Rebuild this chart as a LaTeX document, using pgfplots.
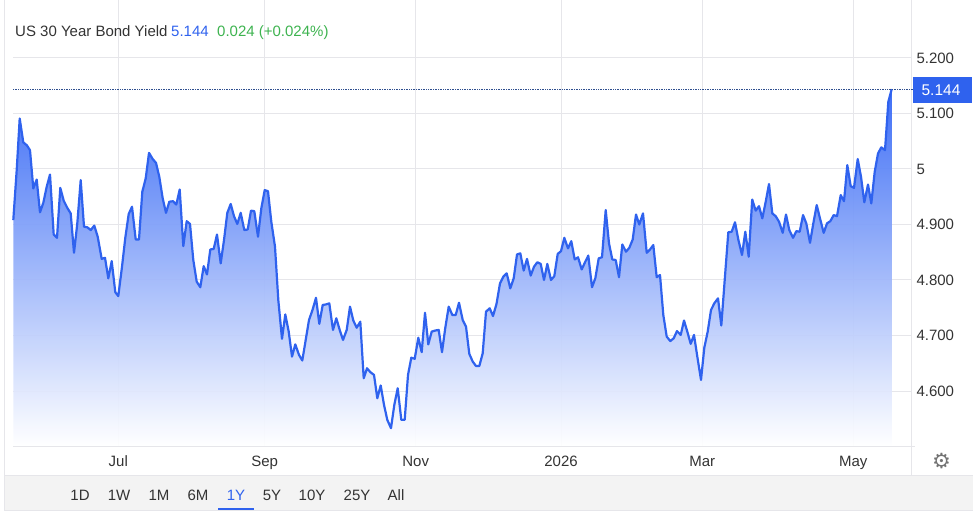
\documentclass[border=0pt]{standalone}
\usepackage{fontspec}
\usepackage{pgfplots}
\usepackage{pgfplotstable}
\pgfplotsset{compat=1.18}
\setmainfont{Liberation Sans}
\newfontfamily\djv{DejaVu Sans}
\definecolor{lineblue}{HTML}{2F62EE}
\definecolor{fillblue}{HTML}{3366F5}
\definecolor{midblue}{HTML}{89A5FB}
\definecolor{gridc}{HTML}{E6E6EA}
\definecolor{txt}{HTML}{333333}
\definecolor{upgreen}{HTML}{3DB34F}
\definecolor{barc}{HTML}{F3F3F3}
\definecolor{dotc}{HTML}{2F4F8F}
\pgfplotstableread{
x y
13.3 4.908
16.7 4.998
19.7 5.091
23.3 5.048
26.7 5.043
30 5.034
33.3 4.965
36.7 4.981
40 4.922
43.3 4.939
46.7 4.968
50 4.990
53.7 4.882
57 4.876
60.3 4.966
63.7 4.943
67.3 4.930
70.7 4.920
74 4.849
77.3 4.902
80.7 4.980
84 4.896
87.3 4.895
90.7 4.890
94.3 4.898
97.7 4.878
101.7 4.838
105 4.840
108.3 4.803
111.7 4.834
115.3 4.778
118.3 4.771
122 4.824
125.3 4.876
128.7 4.919
132 4.932
135.7 4.873
139 4.873
142.3 4.959
145.7 4.983
149 5.029
152.7 5.018
156 5.011
159.3 4.986
162.7 4.947
166 4.921
169.3 4.941
173 4.942
176.3 4.936
179.7 4.963
183.3 4.861
186.7 4.906
190 4.901
193.3 4.836
196.7 4.797
200.3 4.787
203.7 4.825
207 4.810
210.3 4.855
213.7 4.856
217 4.882
220.7 4.830
224 4.872
227.3 4.921
230.7 4.937
234 4.915
237.3 4.901
240.7 4.921
244.3 4.890
247.7 4.891
251 4.925
254.3 4.924
258 4.878
261.3 4.929
264.7 4.962
268 4.960
271.3 4.905
275 4.860
278.3 4.764
282 4.694
285.3 4.738
288.7 4.707
292 4.662
295.3 4.684
299 4.665
302.3 4.655
305.7 4.692
309 4.728
312.5 4.746
316 4.768
319.3 4.721
322.7 4.755
326 4.756
329.3 4.758
333 4.710
336.3 4.731
339.7 4.710
343 4.692
346.7 4.710
350 4.752
353.3 4.727
356.7 4.714
360.3 4.725
363.7 4.623
367 4.641
370.3 4.634
374 4.629
377.3 4.587
380.7 4.610
384 4.575
387.3 4.548
391 4.533
394.3 4.575
397.7 4.605
401.3 4.548
404.7 4.548
408 4.629
411.3 4.660
414.7 4.658
418.3 4.696
421.7 4.670
425 4.741
428.3 4.684
431.7 4.707
435.3 4.709
438.7 4.710
442 4.670
445.3 4.714
448.7 4.752
452.3 4.737
455.7 4.737
459 4.759
462.7 4.728
466 4.716
469.3 4.667
472.7 4.653
476 4.645
479.3 4.645
482.7 4.668
486 4.743
489.7 4.749
493 4.735
496.5 4.757
500 4.794
503.3 4.806
506.7 4.812
510.3 4.785
513.7 4.803
517 4.846
520.3 4.848
523.7 4.817
527 4.838
530.7 4.808
534 4.824
537.3 4.832
540.7 4.829
544 4.800
547.3 4.829
551 4.800
554.3 4.807
557.7 4.847
561 4.852
564.3 4.876
568 4.857
571.3 4.870
574.7 4.837
578 4.841
581.7 4.819
585 4.832
588.3 4.844
592 4.787
595.3 4.803
598.7 4.839
602 4.841
605.7 4.926
609 4.866
612.3 4.837
615.7 4.836
619 4.805
622.3 4.864
626 4.851
629.3 4.858
632.7 4.873
636 4.918
639.3 4.900
643 4.920
646.7 4.849
650 4.855
653.3 4.863
656.7 4.805
660 4.809
663.3 4.737
666.7 4.698
670.3 4.690
673.7 4.695
677 4.708
680.7 4.701
684 4.727
687.3 4.707
690.7 4.685
694 4.701
697.3 4.662
701 4.620
704.3 4.678
707.7 4.707
711 4.746
714.3 4.758
718 4.767
721.3 4.718
724.7 4.800
728.3 4.886
731.7 4.887
735 4.904
738.3 4.873
742 4.845
745.3 4.887
748.7 4.842
752.2 4.945
755.7 4.925
759 4.933
762.3 4.911
765.7 4.941
769 4.973
772.3 4.920
775.7 4.915
779 4.905
782.7 4.885
786 4.918
789.3 4.890
793 4.876
796.3 4.888
799.7 4.887
803 4.917
806.3 4.902
810 4.867
813.3 4.902
816.7 4.935
820 4.911
823.7 4.885
827 4.902
830.3 4.906
833.7 4.917
837 4.915
840.7 4.953
844 4.942
847.3 5.007
850.7 4.969
854 4.966
857.7 5.018
861 4.986
864.3 4.940
868 4.972
871.3 4.938
874.7 4.995
878 5.028
881.3 5.039
885 5.034
888.3 5.121
891.7 5.144
}\yielddata
\begin{document}
\begin{tikzpicture}[x=1pt,y=1pt]
\useasboundingbox (0,0) rectangle (973,515);
% frame and range bar
\fill[barc] (4,5) rectangle (973,40);
\draw[gridc,line width=1pt] (4,5) -- (4,515);
\draw[gridc,line width=1pt] (4,5) -- (973,5);
\draw[gridc,line width=1pt] (4,40) -- (973,40);
\draw[gridc,line width=1pt] (911,40) -- (911,515);
\begin{axis}[
  at={(13pt,69pt)}, anchor=south west,
  scale only axis, width=898pt, height=446pt,
  xmin=13, xmax=911, ymin=4.5009, ymax=5.3045,
  axis line style={draw=none},
  clip=false,
  xtick={118.3,264.7,415.7,561,702.3,853.3},
  xticklabels={Jul,Sep,Nov,2026,Mar,May},
  ytick={4.6,4.7,4.8,4.9,5,5.1,5.2},
  yticklabels={4.600,4.700,4.800,4.900,5,5.100,5.200},
  ticklabel pos=right,
  xticklabel pos=lower,
  major tick length=0pt,
  grid=major,
  major grid style={gridc,line width=1pt},
  tick label style={font=\fontsize{15}{17}\selectfont,text=txt},
  yticklabel style={anchor=west,xshift=2pt},
  xticklabel style={yshift=-6.5pt},
]
\addplot[draw=none, shade, shading angle=0,
  top color=fillblue, middle color=midblue, bottom color=white, opacity=0.94]
  table[x=x,y=y] {\yielddata} \closedcycle;
\addplot[lineblue, line width=2.2pt, line join=round] table[x=x,y=y] {\yielddata};
\addplot[color=dotc, densely dotted, line width=0.7pt] coordinates {(13,5.144) (913,5.144)};
\draw[gridc,line width=1pt] (axis cs:13,4.5009) -- (axis cs:915,4.5009);
\end{axis}
% header
\node[anchor=base west,inner sep=0pt,font=\fontsize{15}{17}\selectfont] at (15,478) {\textcolor{txt}{US 30 Year Bond Yield}};
\node[anchor=base west,inner sep=0pt,font=\fontsize{15}{17}\selectfont,text=lineblue] at (171,478) {5.144};
\node[anchor=base west,inner sep=0pt,font=\fontsize{15}{17}\selectfont,text=upgreen] at (217,478) {0.024 (+0.024\%)};
% last value box
\fill[lineblue] (913,412) rectangle (972,438);
\node[anchor=base,inner sep=0pt,font=\fontsize{15.5}{17}\selectfont,text=white] at (941,419.5) {5.144};
% range selector
\foreach \lab/\xp in {1D/80,1W/119,1M/159,6M/198,5Y/272,10Y/312,25Y/357,All/396}
  \node[anchor=base,inner sep=0pt,font=\fontsize{15}{17}\selectfont,text=txt] at (\xp,14.5) {\lab};
\node[anchor=base,inner sep=0pt,font=\fontsize{15}{17}\selectfont,text=lineblue] at (236,14.5) {1Y};
\fill[lineblue] (218,5) rectangle (254,7);
\node[inner sep=0pt,font=\djv\fontsize{21}{21}\selectfont,text=black!55] at (941.5,53.5) {⚙};
\end{tikzpicture}
\end{document}
